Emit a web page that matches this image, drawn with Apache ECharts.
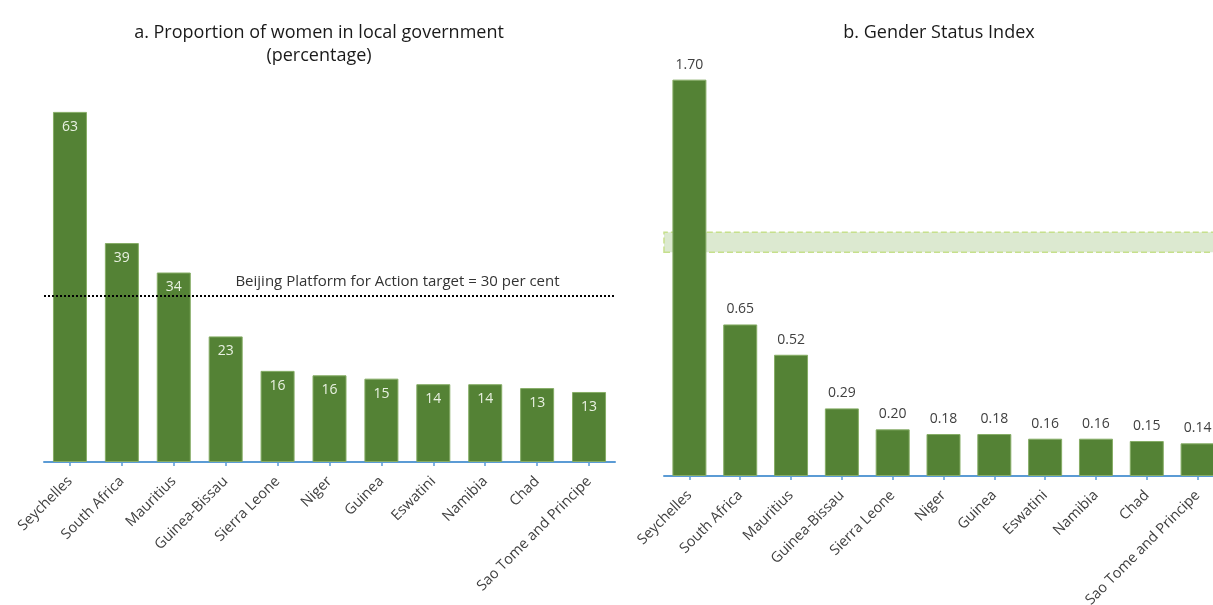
<!DOCTYPE html>
<html>
<head>
<meta charset="utf-8">
<script src="https://cdn.jsdelivr.net/npm/echarts@6/dist/echarts.min.js"></script>
<style>
html,body{margin:0;padding:0;background:#fff;}
#chart{width:1213px;height:605px;}
</style>
</head>
<body>
<div id="chart"></div>
<script>
const categories = ['Seychelles','South Africa','Mauritius','Guinea-Bissau','Sierra Leone','Niger','Guinea','Eswatini','Namibia','Chad','Sao Tome and Principe'];
const womenLocalGov = [63.0, 39.4, 34.1, 22.6, 16.4, 15.6, 15.0, 14.0, 14.0, 13.3, 12.6];
const genderStatusIndex = [1.70, 0.65, 0.52, 0.29, 0.20, 0.18, 0.18, 0.16, 0.16, 0.15, 0.14];
const beijingTarget = 30;
const parityBand = [0.96, 1.045];
const titleA = 'a. Proportion of women in local government\n(percentage)';
const titleB = 'b. Gender Status Index';
const targetLabel = 'Beijing Platform for Action target = 30 per cent';

const FONT = '"Open Sans", "Noto Sans", sans-serif';
const GREEN = '#548235';
const AXIS_BLUE = '#5b9bd5';

const chart = echarts.init(document.getElementById('chart'), null, {renderer:'canvas'});

function xAxisCfg(gridIndex){
  return {
    type:'category', gridIndex, data: categories,
    axisLine:{show:true, lineStyle:{color:AXIS_BLUE, width:2}},
    axisTick:{show:true, alignWithLabel:true, length:4, lineStyle:{color:AXIS_BLUE, width:1.5}},
    axisLabel:{rotate:45, interval:0, margin:17, color:'#404040', fontFamily:FONT, fontSize:14.5},
    splitLine:{show:false}
  };
}

const option = {
  backgroundColor:'#ffffff',
  animation:false,
  title:[
    {text:titleA, left:314, top:16, textAlign:'center',
     textStyle:{fontFamily:FONT, fontSize:18, fontWeight:'normal', color:'#1a1a1a', lineHeight:23}},
    {text:titleB, left:934, top:16, textAlign:'center',
     textStyle:{fontFamily:FONT, fontSize:18, fontWeight:'normal', color:'#1a1a1a', lineHeight:23}}
  ],
  grid:[
    {left:44, width:571, top:73, bottom:143, containLabel:false, outerBoundsMode:'none'},
    {left:664, width:559, top:33, bottom:129, containLabel:false, outerBoundsMode:'none'}
  ],
  xAxis:[xAxisCfg(0), xAxisCfg(1)],
  yAxis:[
    {type:'value', gridIndex:0, min:0, max:70, show:false, splitLine:{show:false}},
    {type:'value', gridIndex:1, min:0, max:1.9, show:false, splitLine:{show:false}}
  ],
  series:[
    {
      type:'bar', xAxisIndex:0, yAxisIndex:0, data:womenLocalGov, barWidth:34,
      itemStyle:{color:GREEN, borderColor:'#86ad66', borderWidth:1},
      label:{show:true, position:'insideTop', distance:8, color:'#e9f1e2', fontFamily:FONT, fontSize:14,
        formatter:p=>Math.round(p.value).toString()},
      markLine:{
        silent:true, symbol:['none','none'],
        lineStyle:{type:'dotted', color:'#000', width:2},
        label:{show:true, position:'insideMiddleTop', distance:6, formatter:targetLabel,
          color:'#333', fontFamily:FONT, fontSize:15, padding:[0,0,0,136]},
        data:[{yAxis:beijingTarget}]
      },
      z:2
    },
    {
      type:'bar', xAxisIndex:1, yAxisIndex:1, data:genderStatusIndex, barWidth:34,
      itemStyle:{color:GREEN, borderColor:'#86ad66', borderWidth:1},
      label:{show:true, position:'top', distance:8, color:'#404040', fontFamily:FONT, fontSize:14,
        formatter:p=>p.value.toFixed(2)},
      z:2
    },
    {
      type:'line', xAxisIndex:1, yAxisIndex:1, data:[], z:10,
      markArea:{
        silent:true,
        itemStyle:{color:'rgba(109,163,59,0.24)', borderColor:'#c6e08c', borderWidth:1.5, borderType:'dashed'},
        data:[[{yAxis:parityBand[0]},{yAxis:parityBand[1]}]]
      }
    }
  ]
};
chart.setOption(option);
</script>
</body>
</html>
